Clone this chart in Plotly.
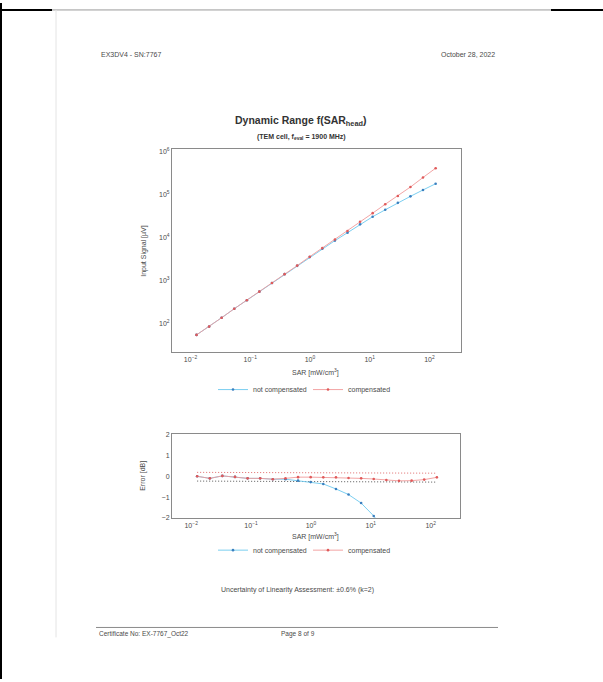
import plotly.graph_objects as go

# ---------------- data ----------------
sar = [0.0126, 0.0205, 0.0332, 0.054, 0.0877, 0.142, 0.231, 0.376, 0.61, 0.991,
       1.61, 2.62, 4.25, 6.9, 11.2, 18.2, 29.6, 48.1, 78.0, 127.0]

signal_not_comp = [54.6, 85.3, 137, 222, 350, 555, 881, 1419, 2213, 3531,
                   5516, 8561, 13090, 20470, 30760, 44670, 64700, 91800, 129100, 180300]
signal_comp = [54.6, 85.3, 137, 222, 350, 555, 881, 1419, 2239, 3614,
               5728, 9078, 14350, 23600, 37240, 60100, 93760, 151400, 251800, 415000]

error_not_comp = [0.0, -0.1, 0.02, -0.03, -0.1, -0.1, -0.14, -0.14, -0.21, -0.28,
                  -0.37, -0.61, -0.88, -1.29, -1.91, -2.75, -3.42, -4.54, -5.94, -7.29]
error_comp = [0.0, -0.1, 0.02, -0.03, -0.1, -0.1, -0.14, -0.1, -0.04, -0.04,
              -0.05, -0.05, -0.08, -0.1, -0.13, -0.18, -0.22, -0.21, -0.16, -0.05]

bound_sar = [0.0126, 127.0]
bound_upper = [0.19, 0.15]
bound_lower = [-0.23, -0.28]

x_tickvals = [0.01, 0.1, 1, 10, 100]
x_ticktext = ["10<sup>\u22122</sup>", "10<sup>\u22121</sup>", "10<sup>0</sup>",
              "10<sup>1</sup>", "10<sup>2</sup>"]
y_tickvals = [1e2, 1e3, 1e4, 1e5, 1e6]
y_ticktext = ["10<sup>2</sup>", "10<sup>3</sup>", "10<sup>4</sup>",
              "10<sup>5</sup>", "10<sup>6</sup>"]
err_tickvals = [-2, -1, 0, 1, 2]
err_ticktext = ["\u22122", "\u22121", "0", "1", "2"]

# ---------------- styling ----------------
W, H = 603, 682
FONT = "Liberation Sans, Arial, sans-serif"
TXT = "#4a4a4a"
BLUE_LINE = "#6cc8ee"
BLUE_MK = "#3b7fbf"
RED_LINE = "#f19a9a"
RED_MK = "#e05a5a"


def px_x(p):
    return p / W


def px_y(p):
    return 1 - p / H


fig = go.Figure()

# top plot
fig.add_trace(go.Scatter(x=sar, y=signal_not_comp, mode="lines+markers",
                         name="not compensated", legend="legend",
                         line=dict(color=BLUE_LINE, width=0.9),
                         marker=dict(color=BLUE_MK, size=2.6),
                         xaxis="x", yaxis="y"))
fig.add_trace(go.Scatter(x=sar, y=signal_comp, mode="lines+markers",
                         name="compensated", legend="legend",
                         line=dict(color=RED_LINE, width=0.9),
                         marker=dict(color=RED_MK, size=2.6),
                         xaxis="x", yaxis="y"))

# error plot
fig.add_trace(go.Scatter(x=bound_sar, y=bound_upper, mode="lines", showlegend=False,
                         line=dict(color="#e06a6a", width=1, dash="1px,2px"),
                         xaxis="x2", yaxis="y2"))
fig.add_trace(go.Scatter(x=bound_sar, y=bound_lower, mode="lines", showlegend=False,
                         line=dict(color="#555555", width=1, dash="1px,2px"),
                         xaxis="x2", yaxis="y2"))
fig.add_trace(go.Scatter(x=sar, y=error_not_comp, mode="lines+markers",
                         name="not compensated", legend="legend2",
                         line=dict(color=BLUE_LINE, width=0.9),
                         marker=dict(color=BLUE_MK, size=2.6),
                         xaxis="x2", yaxis="y2"))
fig.add_trace(go.Scatter(x=sar, y=error_comp, mode="lines+markers",
                         name="compensated", legend="legend2",
                         line=dict(color=RED_LINE, width=0.9),
                         marker=dict(color=RED_MK, size=2.6),
                         xaxis="x2", yaxis="y2"))

axis_common = dict(showline=True, mirror=True, linecolor="#8a8a8a", linewidth=1,
                   showgrid=False, zeroline=False, ticks="",
                   tickfont=dict(family=FONT, size=7, color=TXT))

fig.update_layout(
    width=W, height=H,
    margin=dict(l=0, r=0, t=0, b=0),
    paper_bgcolor="white", plot_bgcolor="white",
    font=dict(family=FONT, color=TXT),
    hovermode=False,
    xaxis=dict(type="log", range=[-2.31, 2.52], domain=[px_x(172), px_x(460.5)],
               anchor="y", tickvals=x_tickvals, ticktext=x_ticktext, **axis_common),
    yaxis=dict(type="log", range=[1.33, 6.06], domain=[px_y(352.5), px_y(147.5)],
               anchor="x", tickvals=y_tickvals, ticktext=y_ticktext, **axis_common),
    xaxis2=dict(type="log", range=[-2.32, 2.49], domain=[px_x(172), px_x(460)],
                anchor="y2", tickvals=x_tickvals, ticktext=x_ticktext, **axis_common),
    yaxis2=dict(range=[-2.03, 2.03], domain=[px_y(520), px_y(435)],
                anchor="x2", tickvals=err_tickvals, ticktext=err_ticktext, **axis_common),
    legend=dict(orientation="h", x=px_x(213), y=px_y(390), xanchor="left", yanchor="middle",
                bgcolor="rgba(0,0,0,0)", font=dict(family=FONT, size=7, color=TXT),
                itemwidth=30, entrywidth=50, entrywidthmode="pixels"),
    legend2=dict(orientation="h", x=px_x(213), y=px_y(552), xanchor="left", yanchor="middle",
                 bgcolor="rgba(0,0,0,0)", font=dict(family=FONT, size=7, color=TXT),
                 itemwidth=30, entrywidth=50, entrywidthmode="pixels"),
)

ann = []


def text(x, y, s, size=7, bold=False, xanchor="left", angle=0, color=TXT):
    if bold:
        s = "<b>" + s + "</b>"
    ann.append(dict(x=px_x(x), y=px_y(y), xref="paper", yref="paper", text=s,
                    showarrow=False, xanchor=xanchor, yanchor="middle", textangle=angle,
                    font=dict(family=FONT, size=size, color=color)))


text(99, 52, "EX3DV4 - SN:7767", 7)
text(497, 52, "October 28, 2022", 7, xanchor="right")
text(301, 119, "Dynamic Range f(SAR<sub>head</sub>)", 10.5, bold=True, xanchor="center", color="#333")
text(301, 135, "(TEM cell, f<sub>eval</sub> = 1900 MHz)", 7, bold=True, xanchor="center", color="#333")
text(315, 373, "SAR [mW/cm<sup>3</sup>]", 7, xanchor="center")
text(144, 250, "Input Signal [\u00b5V]", 7, xanchor="center", angle=-90)
text(315, 538, "SAR [mW/cm<sup>3</sup>]", 7, xanchor="center")
text(143, 477, "Error [dB]", 7, xanchor="center", angle=-90)
text(297, 592, "Uncertainty of Linearity Assessment: \u00b10.6% (k=2)", 7, xanchor="center")
text(97, 637, "Certificate No: EX-7767_Oct22", 6.5)
text(279, 637, "Page 8 of 9", 6.5)
fig.update_layout(annotations=ann)

shapes = [
    # scanner border lines
    dict(type="line", xref="paper", yref="paper", x0=px_x(1), x1=px_x(1), y0=0, y1=1,
         line=dict(color="black", width=2)),
    dict(type="line", xref="paper", yref="paper", x0=0, x1=px_x(52), y0=px_y(7), y1=px_y(7),
         line=dict(color="black", width=2)),
    dict(type="line", xref="paper", yref="paper", x0=px_x(551), x1=1, y0=px_y(7), y1=px_y(7),
         line=dict(color="black", width=2)),
    dict(type="line", xref="paper", yref="paper", x0=px_x(52), x1=px_x(551), y0=px_y(7), y1=px_y(7),
         line=dict(color="#9a9a9a", width=1)),
    dict(type="line", xref="paper", yref="paper", x0=px_x(56), x1=px_x(56), y0=px_y(7), y1=px_y(640),
         line=dict(color="#e4e4e4", width=1)),
    # footer rule
    dict(type="line", xref="paper", yref="paper", x0=px_x(96), x1=px_x(498), y0=px_y(630), y1=px_y(630),
         line=dict(color="#8a8a8a", width=1)),
]
fig.update_layout(shapes=shapes)

fig.write_html("out.html",
               config={"displayModeBar": False, "staticPlot": True},
               post_script="document.body.style.margin='0';document.body.style.overflow='hidden';")
